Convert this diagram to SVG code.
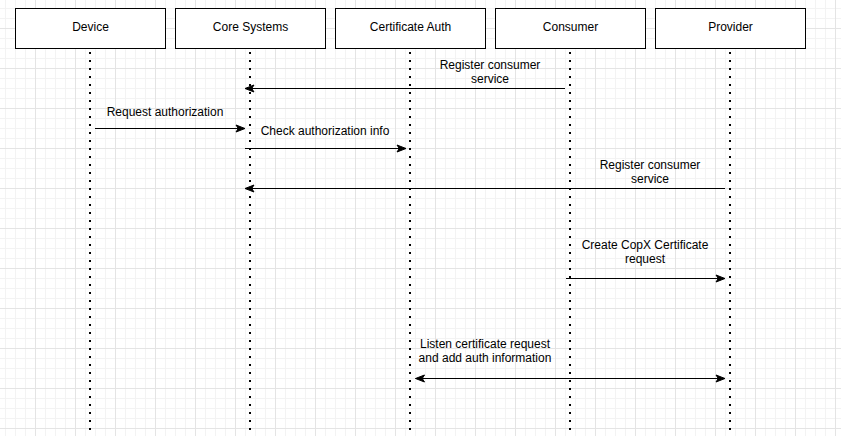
<svg xmlns="http://www.w3.org/2000/svg" width="841" height="436" viewBox="0 0 841 436">
  <style>
    .box { fill: #ffffff; stroke: #000000; stroke-width: 1; }
    .lbl { font-family: "Liberation Sans", Arial, Helvetica, sans-serif; font-size: 12px; fill: #000000; text-anchor: middle; }
    .life { stroke: #000000; stroke-width: 2; stroke-dasharray: 2 6; fill: none; }
    .msg { stroke: #000000; stroke-width: 1; fill: none; marker-end: url(#arrow); }
    .both { marker-start: url(#arrow); }
  </style>
  <defs>
    <pattern id="grid" x="-5" y="-12" width="40" height="40" patternUnits="userSpaceOnUse">
      <rect x="10" y="0" width="1" height="40" fill="#f3f3f3"/>
      <rect x="20" y="0" width="1" height="40" fill="#f3f3f3"/>
      <rect x="30" y="0" width="1" height="40" fill="#f3f3f3"/>
      <rect x="0" y="10" width="40" height="1" fill="#f3f3f3"/>
      <rect x="0" y="20" width="40" height="1" fill="#f3f3f3"/>
      <rect x="0" y="30" width="40" height="1" fill="#f3f3f3"/>
      <rect x="0" y="0" width="1" height="40" fill="#e4e4e4"/>
      <rect x="0" y="0" width="40" height="1" fill="#e4e4e4"/>
    </pattern>
    <marker id="arrow" markerUnits="userSpaceOnUse" markerWidth="12" markerHeight="10" refX="10" refY="5" orient="auto-start-reverse" overflow="visible">
      <path d="M1,1.5 L10,5 L1,8.5 L3.25,5 Z" fill="#000000" stroke="#000000" stroke-width="1" stroke-linejoin="miter"/>
    </marker>
  </defs>

  <rect x="0" y="0" width="841" height="436" fill="#ffffff"/>
  <rect x="0" y="0" width="841" height="436" fill="url(#grid)"/>

  <g id="lifelines">
    <line class="life" x1="90" y1="52" x2="90" y2="436"/>
    <line class="life" x1="250" y1="52" x2="250" y2="436"/>
    <line class="life" x1="410" y1="52" x2="410" y2="436"/>
    <line class="life" x1="570" y1="52" x2="570" y2="436"/>
    <line class="life" x1="730" y1="52" x2="730" y2="436"/>
  </g>

  <g id="device">
    <rect class="box" x="15.5" y="8.5" width="150" height="40"/>
    <text class="lbl" x="90.5" y="31">Device</text>
  </g>
  <g id="core-systems">
    <rect class="box" x="175.5" y="8.5" width="150" height="40"/>
    <text class="lbl" x="250.5" y="31">Core Systems</text>
  </g>
  <g id="certificate-auth">
    <rect class="box" x="335.5" y="8.5" width="150" height="40"/>
    <text class="lbl" x="410.5" y="31">Certificate Auth</text>
  </g>
  <g id="consumer">
    <rect class="box" x="495.5" y="8.5" width="150" height="40"/>
    <text class="lbl" x="570.5" y="31">Consumer</text>
  </g>
  <g id="provider">
    <rect class="box" x="655.5" y="8.5" width="150" height="40"/>
    <text class="lbl" x="730.5" y="31">Provider</text>
  </g>

  <g id="connectors">
    <path class="msg" d="M565,88.5 L245,88.5"/>
    <path class="msg" d="M95,128.5 L245,128.5"/>
    <path class="msg" d="M245,148.5 L406,148.5"/>
    <path class="msg" d="M725,188.5 L245,188.5"/>
    <path class="msg" d="M566,278.5 L725,278.5"/>
    <path class="msg both" d="M415.5,378.5 L725,378.5"/>
  </g>

  <g id="labels">
    <text class="lbl" x="490" y="69">Register consumer</text>
    <text class="lbl" x="490" y="83">service</text>
    <text class="lbl" x="165" y="116">Request authorization</text>
    <text class="lbl" x="325" y="135">Check authorization info</text>
    <text class="lbl" x="650" y="169">Register consumer</text>
    <text class="lbl" x="650" y="183">service</text>
    <text class="lbl" x="645" y="249">Create CopX Certificate</text>
    <text class="lbl" x="645" y="263">request</text>
    <text class="lbl" x="485" y="348">Listen certificate request</text>
    <text class="lbl" x="485" y="362">and add auth information</text>
  </g>
</svg>
